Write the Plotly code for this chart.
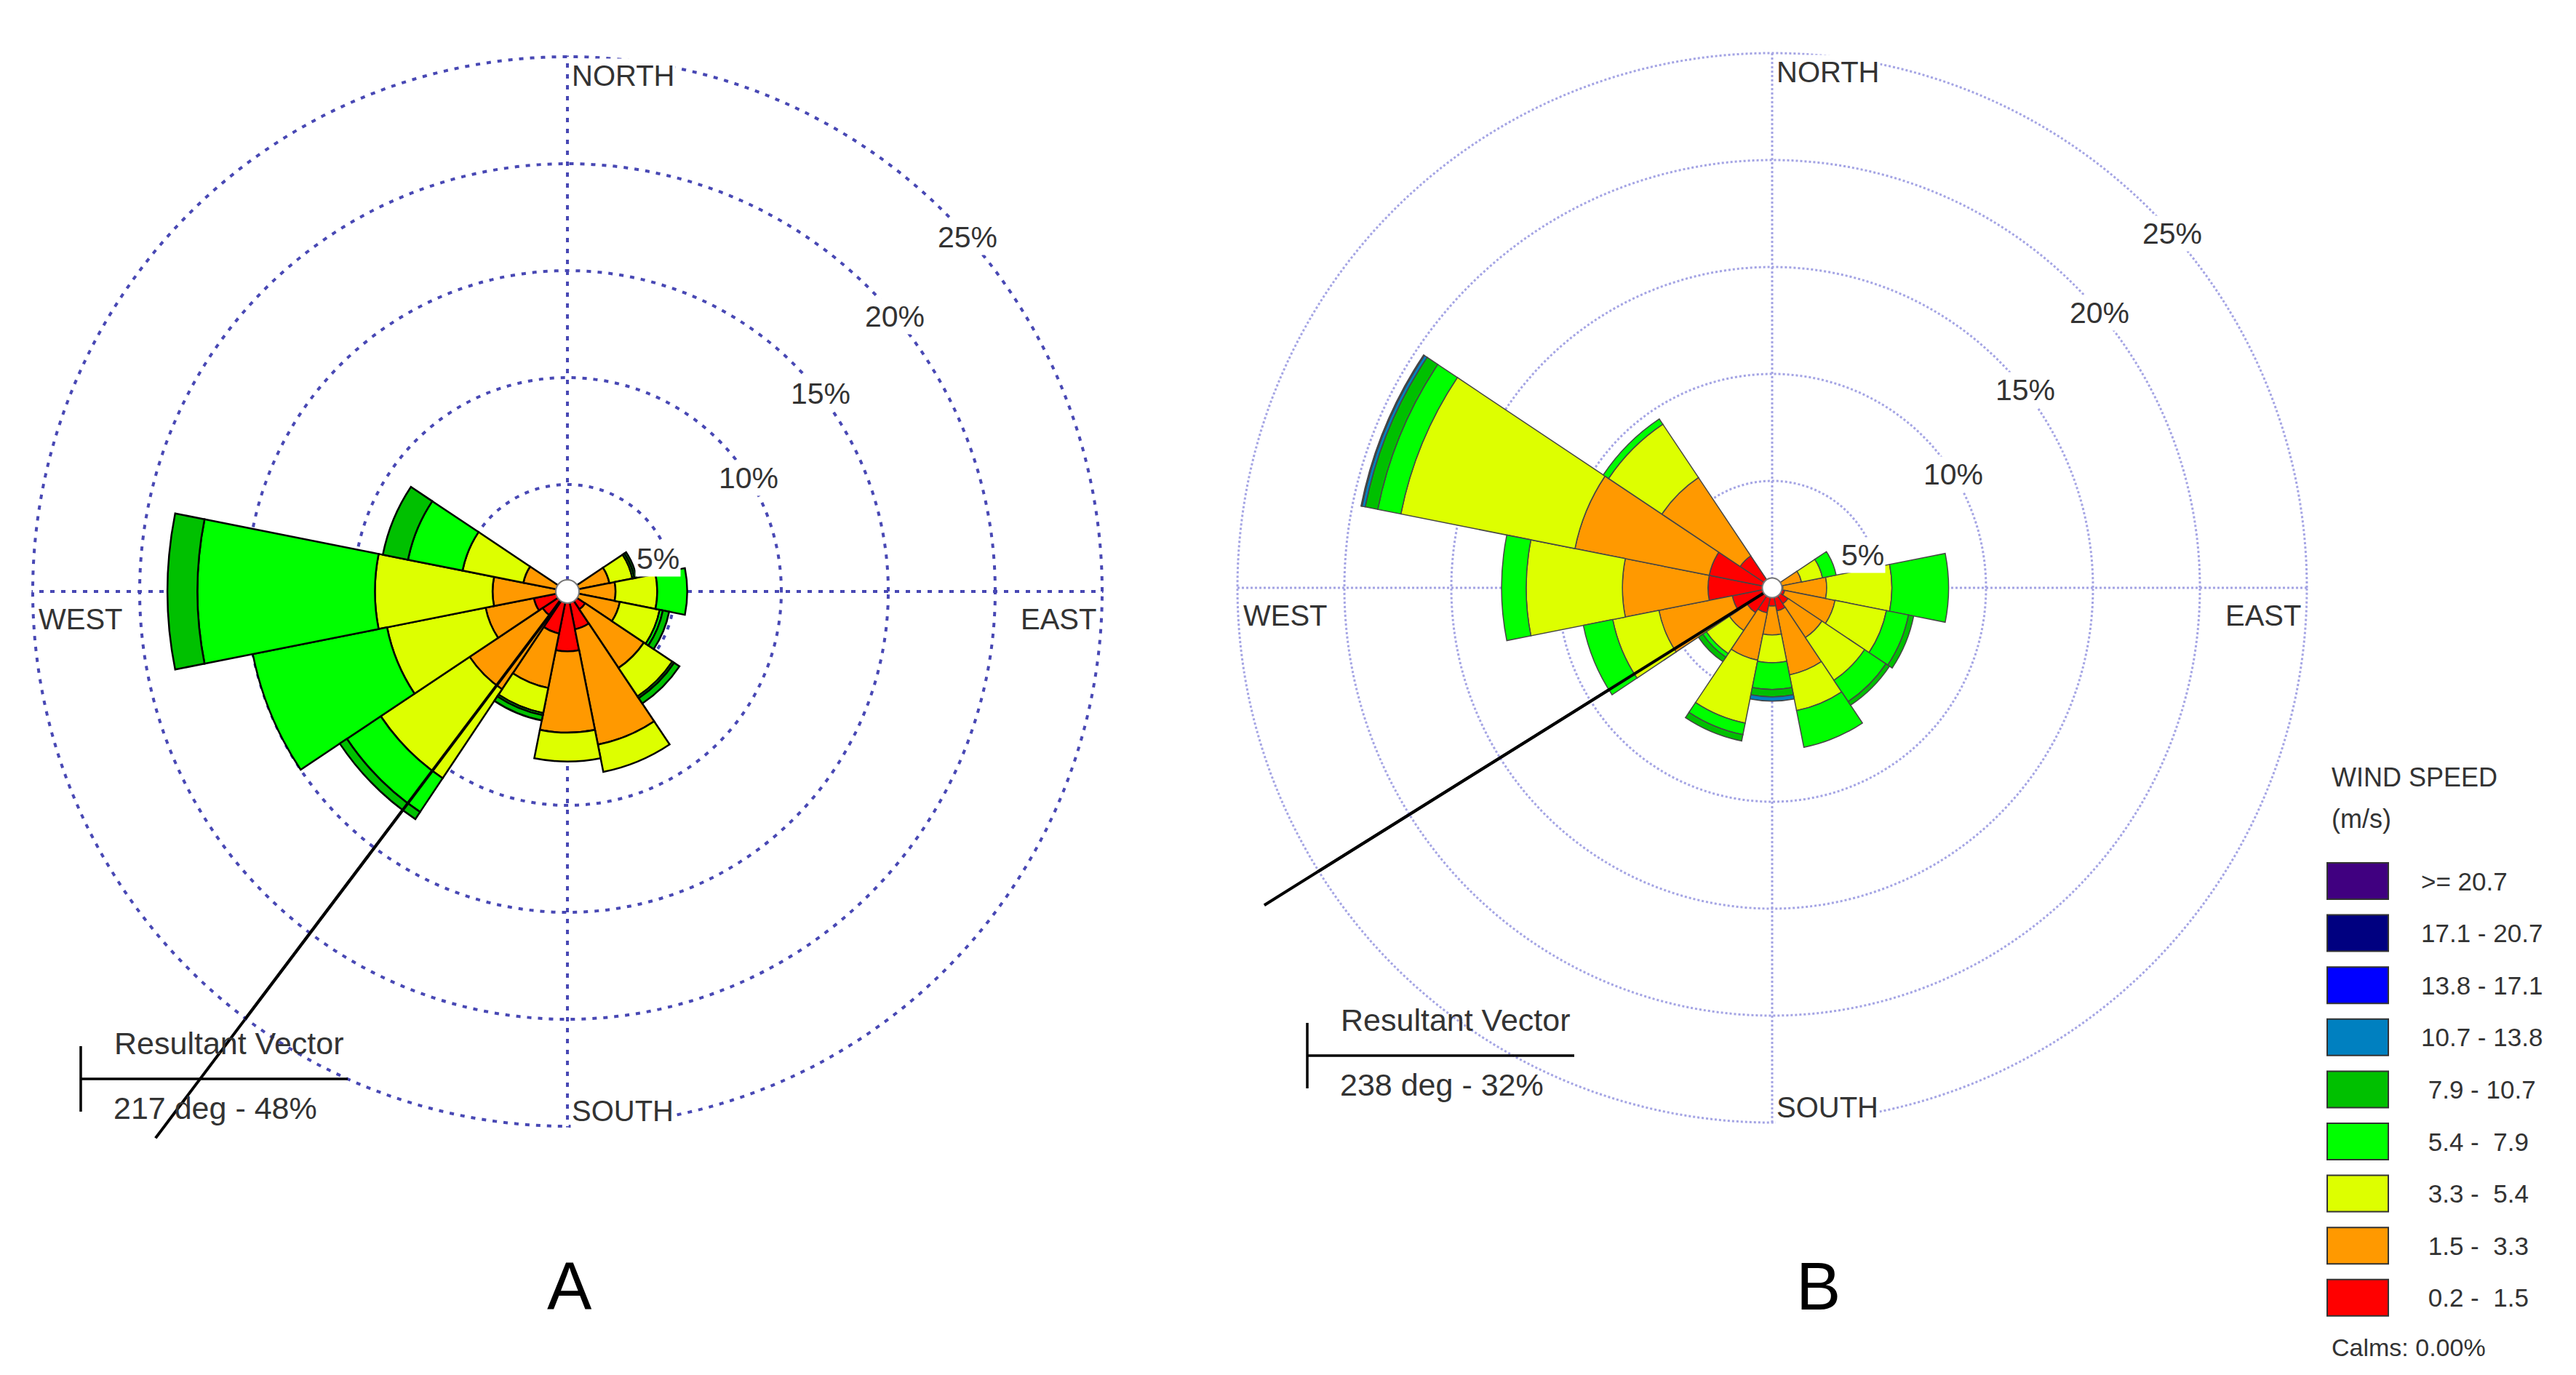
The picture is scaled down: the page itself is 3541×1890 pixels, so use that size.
# -*- coding: utf-8 -*-
import numpy as np
import plotly.graph_objects as go

# 16 compass sectors, degrees clockwise from north
directions = ["N", "NNE", "NE", "ENE", "E", "ESE", "SE", "SSE",
              "S", "SSW", "SW", "WSW", "W", "WNW", "NW", "NNW"]
sector_deg = [0, 22.5, 45, 67.5, 90, 112.5, 135, 157.5,
              180, 202.5, 225, 247.5, 270, 292.5, 315, 337.5]

# wind speed classes (m/s), lowest first
speed_classes = [" 0.2 -  1.5", " 1.5 -  3.3", " 3.3 -  5.4", " 5.4 -  7.9", " 7.9 - 10.7",
                 "10.7 - 13.8", "13.8 - 17.1", "17.1 - 20.7", ">= 20.7"]
speed_colors = ["#FF0000", "#FF9900", "#DDFF00", "#00FF00", "#00C000",
                "#0080C0", "#0000FF", "#000080", "#400080"]

# Site A - frequency (%) per sector for each speed class
a_02_15 = [0.2, 0.2, 0.2, 0.3, 0.3, 0.4, 1.0, 1.8, 2.8, 2.0, 1.4, 1.6, 0.4, 0.3, 0.2, 0.2]
a_15_33 = [0.2, 0.1, 0.2, 1.7, 1.95, 2.1, 3.3, 5.5, 3.8, 2.6, 4.1, 2.3, 3.1, 1.8, 0.2, 0.1]
a_33_54 = [0, 0, 0, 1.1, 1.95, 1.9, 1.6, 1.3, 1.35, 1.2, 5.0, 4.7, 5.5, 2.9, 0, 0]
a_54_79 = [0, 0, 0, 0.1, 1.4, 0.15, 0.1, 0, 0, 0.1, 1.9, 6.4, 8.3, 2.6, 0, 0]
a_79_107 = [0, 0, 0, 0.1, 0, 0.3, 0.3, 0, 0, 0.25, 0.4, 0, 1.4, 1.2, 0, 0]
a_107_138 = [0, 0, 0, 0, 0, 0, 0, 0, 0, 0, 0, 0, 0, 0, 0, 0]
a_138_171 = [0, 0, 0, 0, 0, 0, 0, 0, 0, 0, 0, 0, 0, 0, 0, 0]
a_171_207 = [0, 0, 0, 0, 0, 0, 0, 0, 0, 0, 0, 0, 0, 0, 0, 0]
a_207_up = [0, 0, 0, 0, 0, 0, 0, 0, 0, 0, 0, 0, 0, 0, 0, 0]

# Site B - frequency (%) per sector for each speed class
b_02_15 = [0.2, 0.2, 0.2, 0.4, 0.5, 0.6, 0.9, 1.1, 0.85, 1.2, 1.4, 1.9, 3.0, 3.0, 1.8, 0.2]
b_15_33 = [0.1, 0, 0.1, 1.0, 2.05, 2.4, 1.9, 3.05, 1.35, 2.25, 1.0, 3.5, 4.0, 6.4, 4.4, 0.1]
b_33_54 = [0, 0, 0, 1.0, 3.05, 2.45, 2.4, 1.7, 1.3, 3.0, 1.3, 2.2, 4.5, 8.3, 3.0, 0]
b_54_79 = [0, 0, 0, 0.65, 2.65, 1.05, 1.2, 1.75, 1.25, 0.55, 0.2, 1.4, 1.15, 1.1, 0.3, 0]
b_79_107 = [0, 0, 0, 0, 0, 0.25, 0.2, 0, 0.35, 0.3, 0.25, 0, 0, 0.6, 0, 0]
b_107_138 = [0, 0, 0, 0, 0, 0, 0, 0, 0.2, 0, 0, 0, 0, 0.15, 0, 0]
b_138_171 = [0, 0, 0, 0, 0, 0, 0, 0, 0, 0, 0, 0, 0, 0.05, 0, 0]
b_171_207 = [0, 0, 0, 0, 0, 0, 0, 0, 0, 0, 0, 0, 0, 0, 0, 0]
b_207_up = [0, 0, 0, 0, 0, 0, 0, 0, 0, 0, 0, 0, 0, 0, 0, 0]

site_a = [a_02_15, a_15_33, a_33_54, a_54_79, a_79_107, a_107_138, a_138_171, a_171_207, a_207_up]
site_b = [b_02_15, b_15_33, b_33_54, b_54_79, b_79_107, b_107_138, b_138_171, b_171_207, b_207_up]

# resultant vectors (direction deg, percent)
result_a = (217, 48)
result_b = (238, 32)
calms_pct = 0.0

ring_pct = [5, 10, 15, 20, 25]
compass = ["NORTH", "EAST", "SOUTH", "WEST"]

# ---- layout geometry (pixels of the 3541 x 1890 page) ----
W, H = 3541, 1890
R25 = 735                 # px radius of the 25% ring
R_EDGE = 25.05            # radial range of the polar subplots
PX = R25 / 25.0           # px per percent
CENTER_A = (772, 805)
CENTER_B = (2428, 800)
LINE_LEN_A = 32           # drawn length of the resultant line (percent units)
LINE_LEN_B = 28
FONT = "Liberation Sans, Arial, sans-serif"

label_r = [4.5, 10, 15, 20, 25]
label_bearing = [70, 58, 52, 50, 48.5]


def px(x):
    return x / W


def py(y):
    return 1 - y / H


def note(x, y, text, size, xanchor="left", color="#333333", **kw):
    # paper-positioned text, anchored explicitly so plotly's "auto" doesn't move it
    return dict(x=px(x), y=py(y), xref="paper", yref="paper", text=text, showarrow=False,
                xanchor=xanchor, yanchor="middle", font=dict(size=size, color=color, family=FONT), **kw)


fig = go.Figure()


def add_rose(subplot, data, edge_color, edge_width):
    for vals, name, col in zip(data, speed_classes, speed_colors):
        fig.add_trace(go.Barpolar(
            r=[v if v > 0 else None for v in vals], theta=sector_deg, width=22.5,
            name=name, subplot=subplot, showlegend=False,
            marker=dict(color=col, line=dict(color=edge_color, width=edge_width)),
        ))


def add_vector(subplot, xa, ya, result, length):
    deg = result[0]
    fig.add_trace(go.Scatterpolar(r=[0, length], theta=[deg, deg], mode="lines", subplot=subplot,
                                  line=dict(color="black", width=4), showlegend=False))
    # the part beyond the outer ring goes on an invisible cartesian overlay with the same scale
    ang = np.deg2rad(deg)
    fig.add_trace(go.Scatter(x=[0, length * np.sin(ang)], y=[0, length * np.cos(ang)], mode="lines",
                             xaxis=xa, yaxis=ya, line=dict(color="black", width=4), showlegend=False))


def add_hub(subplot, size):
    fig.add_trace(go.Scatterpolar(r=[0], theta=[0], mode="markers", subplot=subplot, showlegend=False,
                                  marker=dict(size=size, color="white", line=dict(color="#777777", width=2))))


add_rose("polar", site_a, "black", 2.5)
add_vector("polar", "x", "y", result_a, LINE_LEN_A)
add_hub("polar", 32)

add_rose("polar2", site_b, "#454545", 1.5)
add_vector("polar2", "x2", "y2", result_b, LINE_LEN_B)
add_hub("polar2", 27)


def polar_layout(center, grid_color, grid_width, grid_dash):
    cx, cy = center
    r_px = R25 * R_EDGE / 25
    grid = dict(gridcolor=grid_color, gridwidth=grid_width, griddash=grid_dash,
                showticklabels=False, ticks="", showline=False)
    return dict(
        domain=dict(x=[px(cx - r_px), px(cx + r_px)], y=[(H - cy - r_px) / H, (H - cy + r_px) / H]),
        bgcolor="rgba(0,0,0,0)", barmode="stack",
        radialaxis=dict(range=[0, R_EDGE], tickvals=ring_pct, **grid),
        angularaxis=dict(rotation=90, direction="clockwise", tickvals=[0, 90, 180, 270], **grid),
    )


def overlay_axes(center, x_dom):
    cx, cy = center
    xa = dict(domain=x_dom, range=[(x_dom[0] * W - cx) / PX, (x_dom[1] * W - cx) / PX], visible=False)
    ya = dict(domain=[0, 1], range=[(cy - H) / PX, cy / PX], visible=False)
    return xa, ya


xa1, ya1 = overlay_axes(CENTER_A, [0, 0.47])
xa2, ya2 = overlay_axes(CENTER_B, [0.47, 1.0])
xa1.update(anchor="y")
ya1.update(anchor="x")
xa2.update(anchor="y2")
ya2.update(anchor="x2")

annotations = []
shapes = []


def ring_labels(xref, yref):
    for pct, r, b in zip(ring_pct, label_r, label_bearing):
        ang = np.deg2rad(b)
        annotations.append(dict(x=r * np.sin(ang), y=r * np.cos(ang), xref=xref, yref=yref,
                                text=f"{pct}%", showarrow=False, bgcolor="white", borderpad=1,
                                xanchor="center", yanchor="middle",
                                font=dict(size=41, color="#333333", family=FONT)))
    spots = [(0.15, 24.1, "left"), (24.8, -1.3, "right"), (0.15, -24.3, "left"), (-24.8, -1.3, "left")]
    for name, (x, y, xa) in zip(compass, spots):
        annotations.append(dict(x=x, y=y, xref=xref, yref=yref, text=name, showarrow=False,
                                xanchor=xa, yanchor="middle", bgcolor="white", borderpad=1,
                                font=dict(size=40, color="#333333", family=FONT)))


ring_labels("x", "y")
ring_labels("x2", "y2")


def resultant_block(x0, y0, result):
    line = dict(color="black", width=3.5)
    shapes.append(dict(type="line", xref="paper", yref="paper", x0=px(x0), x1=px(x0 + 367),
                       y0=py(y0), y1=py(y0), line=line))
    shapes.append(dict(type="line", xref="paper", yref="paper", x0=px(x0), x1=px(x0),
                       y0=py(y0 - 45), y1=py(y0 + 45), line=line))
    annotations.append(note(x0 + 44, y0 - 49, "Resultant Vector", 43))
    annotations.append(note(x0 + 43, y0 + 40, f"{result[0]} deg - {result[1]}%", 43))


resultant_block(103, 1475, result_a)
resultant_block(1789, 1443, result_b)

# speed legend drawn beside rose B (highest class on top)
annotations.append(note(3195, 1060, "WIND SPEED", 36))
annotations.append(note(3195, 1117, "(m/s)", 36))
for i, (name, col) in enumerate(zip(speed_classes[::-1], speed_colors[::-1])):
    yc = 1203 + i * 71.6
    shapes.append(dict(type="rect", xref="paper", yref="paper", x0=px(3191), x1=px(3275),
                       y0=py(yc - 25), y1=py(yc + 25), fillcolor=col, line=dict(color="#333333", width=2)))
    annotations.append(note(3318, yc, name, 35))
annotations.append(note(3195, 1844, f"Calms: {calms_pct:.2f}%", 34))

# panel letters
annotations.append(note(775, 1760, "A", 92, xanchor="center", color="black"))
annotations.append(note(2491, 1760, "B", 92, xanchor="center", color="black"))

fig.update_layout(
    width=W, height=H, margin=dict(l=0, r=0, t=0, b=0),
    paper_bgcolor="white", plot_bgcolor="rgba(0,0,0,0)",
    font=dict(family=FONT, color="#333333"),
    polar=polar_layout(CENTER_A, "#4848B4", 3.5, "6px,9px"),
    polar2=polar_layout(CENTER_B, "#A4A4E4", 2.5, "3px,3px"),
    xaxis=xa1, yaxis=ya1, xaxis2=xa2, yaxis2=ya2,
    annotations=annotations, shapes=shapes, showlegend=False,
)

fig.write_html("out.html")
